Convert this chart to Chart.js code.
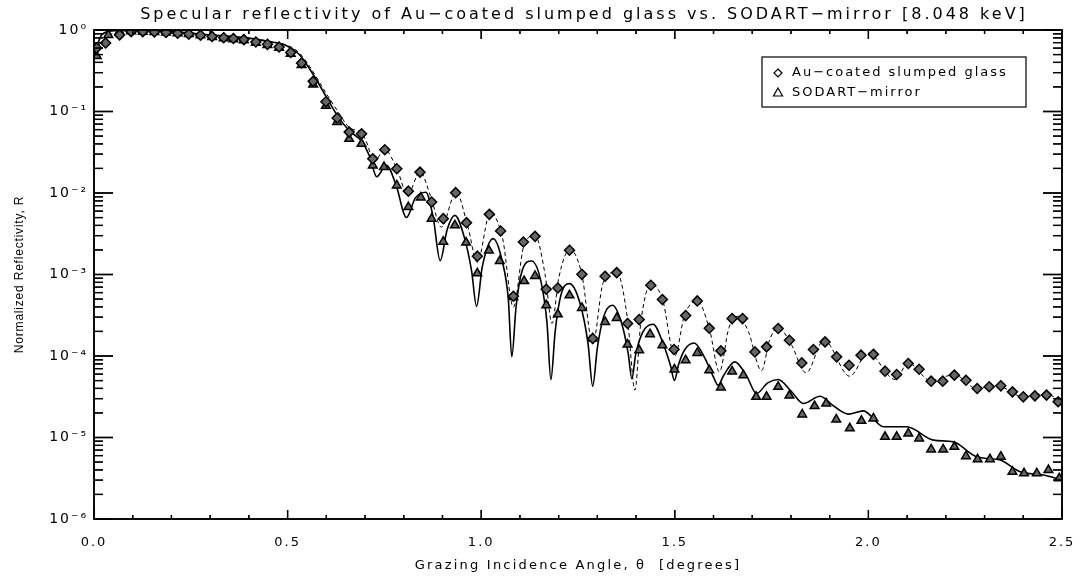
<!DOCTYPE html>
<html>
<head>
<meta charset="utf-8">
<script src="https://cdn.jsdelivr.net/npm/chart.js@4.4.1/dist/chart.umd.min.js"></script>
<style>
  html, body { margin: 0; padding: 0; background: #fff; }
  #wrap { position: relative; width: 1081px; height: 577px; }
  #axes { position: absolute; left: 0; top: 0; pointer-events: none; }
</style>
</head>
<body>
<div id="wrap">
  <canvas id="refl" width="1081" height="577"></canvas>
  <svg id="axes" width="1081" height="577" xmlns="http://www.w3.org/2000/svg"></svg>
</div>
<script>
// grazing angle (deg) and log10 of normalized reflectivity
const auTheta = [
  0.007, 0.030, 0.066, 0.096, 0.126, 0.156, 0.186, 0.216, 0.245, 0.275,
  0.305, 0.335, 0.360, 0.387, 0.418, 0.448, 0.478, 0.508, 0.536, 0.566,
  0.599, 0.628, 0.659, 0.691, 0.720, 0.751, 0.782, 0.812, 0.842, 0.872,
  0.902, 0.934, 0.962, 0.990, 1.021, 1.050, 1.083, 1.109, 1.139, 1.168,
  1.198, 1.228, 1.260, 1.288, 1.320, 1.350, 1.378, 1.408, 1.438, 1.468,
  1.498, 1.528, 1.558, 1.589, 1.619, 1.648, 1.675, 1.707, 1.737, 1.767,
  1.796, 1.828, 1.858, 1.888, 1.918, 1.950, 1.981, 2.013, 2.043, 2.073,
  2.103, 2.131, 2.162, 2.192, 2.222, 2.252, 2.281, 2.312, 2.342, 2.372,
  2.400, 2.430, 2.460, 2.490
];
const auLogR = [
  -0.22, -0.16, -0.06, -0.02, -0.02, -0.025, -0.03, -0.04, -0.05, -0.065,
  -0.08, -0.095, -0.105, -0.118, -0.148, -0.176, -0.208, -0.275, -0.405, -0.63,
  -0.88, -1.08, -1.253, -1.274, -1.58, -1.47, -1.702, -1.977, -1.744, -2.111,
  -2.315, -1.996, -2.364, -2.775, -2.262, -2.467, -3.267, -2.602, -2.532, -3.181,
  -3.165, -2.703, -2.998, -3.786, -3.022, -2.977, -3.601, -3.553, -3.132, -3.307,
  -3.92, -3.504, -3.324, -3.66, -3.937, -3.541, -3.541, -3.95, -3.888, -3.663,
  -3.806, -4.085, -3.92, -3.827, -4.01, -4.113, -3.99, -3.98, -4.186, -4.227,
  -4.092, -4.162, -4.309, -4.309, -4.235, -4.297, -4.398, -4.378, -4.366, -4.44,
  -4.501, -4.489, -4.48, -4.562
];

const sodTheta = [
  0.007, 0.037, 0.066, 0.096, 0.126, 0.156, 0.186, 0.216, 0.245, 0.275,
  0.305, 0.335, 0.360, 0.387, 0.418, 0.448, 0.478, 0.508, 0.536, 0.566,
  0.599, 0.628, 0.659, 0.691, 0.720, 0.749, 0.782, 0.812, 0.844, 0.872,
  0.902, 0.932, 0.961, 0.990, 1.020, 1.048, 1.083, 1.111, 1.139, 1.168,
  1.198, 1.228, 1.260, 1.288, 1.320, 1.350, 1.378, 1.408, 1.436, 1.468,
  1.499, 1.528, 1.558, 1.589, 1.619, 1.648, 1.677, 1.710, 1.737, 1.767,
  1.796, 1.829, 1.861, 1.891, 1.917, 1.952, 1.982, 2.013, 2.043, 2.073,
  2.103, 2.131, 2.162, 2.193, 2.222, 2.252, 2.282, 2.314, 2.342, 2.372,
  2.402, 2.435, 2.465, 2.493
];
const sodLogR = [
  -0.32, -0.06, -0.02, -0.015, -0.02, -0.025, -0.03, -0.04, -0.05, -0.065,
  -0.085, -0.1, -0.112, -0.125, -0.155, -0.185, -0.218, -0.29, -0.43, -0.67,
  -0.93, -1.13, -1.335, -1.396, -1.662, -1.682, -1.907, -2.173, -2.054, -2.315,
  -2.597, -2.397, -2.608, -2.986, -2.706, -2.835, -3.276, -3.08, -3.018, -3.377,
  -3.488, -3.255, -3.411, -3.786, -3.582, -3.533, -3.859, -3.929, -3.733, -3.868,
  -4.165, -4.051, -3.962, -4.174, -4.386, -4.19, -4.235, -4.501, -4.501, -4.378,
  -4.485, -4.717, -4.615, -4.582, -4.778, -4.888, -4.795, -4.766, -4.991, -4.991,
  -4.95, -5.012, -5.147, -5.147, -5.115, -5.229, -5.268, -5.268, -5.236, -5.42,
  -5.44, -5.44, -5.40, -5.50
];

// model curves (dashed: Au-coated glass, solid: SODART)
const auFitTheta = [
  0.000, 0.030, 0.060, 0.100, 0.200, 0.300, 0.400, 0.450, 0.500, 0.530,
  0.560, 0.600, 0.630, 0.660, 0.690, 0.706, 0.722, 0.751, 0.782, 0.810,
  0.842, 0.870, 0.897, 0.935, 0.965, 0.990, 1.023, 1.055, 1.083, 1.110,
  1.139, 1.165, 1.183, 1.200, 1.229, 1.260, 1.288, 1.315, 1.350, 1.378,
  1.397, 1.412, 1.438, 1.468, 1.500, 1.525, 1.558, 1.590, 1.615, 1.640,
  1.664, 1.690, 1.724, 1.745, 1.767, 1.800, 1.839, 1.885, 1.952, 1.999,
  2.069, 2.103, 2.160, 2.222, 2.280, 2.330, 2.400, 2.460, 2.500
];
const auFitLogR = [
  -0.25, -0.10, -0.02, -0.005, -0.02, -0.06, -0.10, -0.135, -0.19, -0.28,
  -0.47, -0.78, -1.00, -1.20, -1.26, -1.40, -1.62, -1.47, -1.70, -2.02,
  -1.74, -2.05, -2.42, -1.99, -2.40, -2.85, -2.246, -2.55, -3.40, -2.65,
  -2.52, -3.00, -3.60, -3.05, -2.695, -3.00, -3.85, -3.10, -2.969, -3.55,
  -4.42, -3.60, -3.12, -3.30, -4.00, -3.50, -3.324, -3.68, -4.195, -3.65,
  -3.512, -3.70, -4.18, -3.80, -3.65, -3.85, -4.207, -3.806, -4.248, -3.962,
  -4.288, -4.085, -4.30, -4.23, -4.40, -4.36, -4.50, -4.47, -4.56
];

const sodFitTheta = [
  0.000, 0.020, 0.050, 0.100, 0.200, 0.300, 0.400, 0.450, 0.500, 0.530,
  0.560, 0.600, 0.630, 0.660, 0.690, 0.712, 0.730, 0.755, 0.780, 0.807,
  0.830, 0.857, 0.876, 0.894, 0.912, 0.932, 0.955, 0.975, 0.988, 1.003,
  1.031, 1.055, 1.070, 1.079, 1.090, 1.106, 1.130, 1.155, 1.170, 1.180,
  1.191, 1.206, 1.228, 1.255, 1.276, 1.288, 1.300, 1.316, 1.339, 1.364,
  1.380, 1.389, 1.399, 1.418, 1.444, 1.470, 1.489, 1.499, 1.510, 1.526,
  1.550, 1.577, 1.600, 1.612, 1.626, 1.655, 1.686, 1.711, 1.740, 1.767,
  1.800, 1.832, 1.875, 1.912, 1.948, 1.987, 2.039, 2.099, 2.168, 2.219,
  2.279, 2.340, 2.392, 2.452, 2.500
];
const sodFitLogR = [
  -0.30, -0.06, -0.01, -0.005, -0.02, -0.06, -0.10, -0.14, -0.20, -0.30,
  -0.50, -0.82, -1.06, -1.24, -1.36, -1.55, -1.80, -1.66, -1.90, -2.30,
  -2.06, -1.99, -2.30, -2.83, -2.45, -2.275, -2.52, -2.95, -3.39, -2.90,
  -2.56, -2.85, -3.30, -4.01, -3.40, -2.95, -2.835, -3.10, -3.60, -4.29,
  -3.70, -3.25, -3.112, -3.35, -3.85, -4.37, -3.90, -3.52, -3.377, -3.62,
  -3.98, -4.28, -3.98, -3.70, -3.61, -3.85, -4.12, -4.30, -4.10, -3.92,
  -3.84, -4.02, -4.26, -4.36, -4.24, -4.072, -4.25, -4.46, -4.33, -4.288,
  -4.43, -4.582, -4.493, -4.62, -4.713, -4.673, -4.869, -4.869, -5.032, -5.053,
  -5.236, -5.277, -5.42, -5.46, -5.52
];

const yTickValues = [1e-6, 1e-5, 1e-4, 1e-3, 1e-2, 1e-1, 1];

const titleText = 'Specular reflectivity of Au\u2212coated slumped glass vs. SODART\u2212mirror [8.048 keV]';
const xTitleText = 'Grazing Incidence Angle, \u03b8  [degrees]';
const yTitleText = 'Normalized Reflectivity, R';

const sup = { '-': '\u207b', '0': '\u2070', '1': '\u00b9', '2': '\u00b2', '3': '\u00b3', '4': '\u2074', '5': '\u2075', '6': '\u2076' };
function decadeLabel(v) {
  const e = Math.round(Math.log10(v));
  return '10' + String(e).split('').map(c => sup[c]).join('');
}

const toPoints = (xs, ys) => xs.map((t, i) => ({ x: t, y: Math.pow(10, ys[i]) }));

// frame + inward ticks as line segments, positioned from the chart's own scales
function frameSegments(chart) {
  const a = chart.chartArea;
  const xs = chart.scales.x, ys = chart.scales.y;
  const segs = [];
  yTickValues.forEach(dec => {
    for (let m = 1; m <= 9; m++) {
      const v = dec * m;
      if (v > 1.0001) break;
      const py = ys.getPixelForValue(v);
      const len = m === 1 ? 19 : 9;
      segs.push([a.left, py, a.left + len, py], [a.right, py, a.right - len, py]);
    }
  });
  for (let i = 0; i <= 25; i++) {
    const px = xs.getPixelForValue(i / 10);
    const len = i % 5 === 0 ? 9 : 4;
    segs.push([px, a.bottom, px, a.bottom - len], [px, a.top, px, a.top + len]);
  }
  return segs;
}

const decor = {
  id: 'decor',
  beforeDraw(chart) {
    chart.ctx.letterSpacing = '2px';
  },
  afterDraw(chart) {
    const ctx = chart.ctx;
    const a = chart.chartArea;
    ctx.save();
    ctx.setLineDash([]);
    ctx.strokeStyle = '#000';
    ctx.fillStyle = '#000';
    ctx.lineWidth = 1.6;
    ctx.strokeRect(a.left, a.top, a.width, a.height);
    ctx.lineWidth = 1.3;
    ctx.beginPath();
    frameSegments(chart).forEach(s => { ctx.moveTo(s[0], s[1]); ctx.lineTo(s[2], s[3]); });
    ctx.stroke();

    ctx.textAlign = 'center';
    ctx.textBaseline = 'middle';
    ctx.letterSpacing = '3px';
    ctx.font = '16px "DejaVu Sans"';
    ctx.fillText(titleText, (a.left + a.right) / 2 + 6, 15);
    ctx.letterSpacing = '2.2px';
    ctx.font = '13px "DejaVu Sans"';
    ctx.fillText(xTitleText, (a.left + a.right) / 2, 566);

    ctx.save();
    ctx.translate(20, (a.top + a.bottom) / 2);
    ctx.rotate(-Math.PI / 2);
    ctx.letterSpacing = '0.8px';
    ctx.font = '12px "Liberation Sans"';
    ctx.fillText(yTitleText, 0, 0);
    ctx.restore();

    // boxed legend
    const lx = a.right - 300, ly = a.top + 27, lw = 264, lh = 50;
    ctx.lineWidth = 1.2;
    ctx.strokeRect(lx, ly, lw, lh);
    ctx.fillStyle = '#fff';
    ctx.beginPath();
    ctx.moveTo(lx + 16, ly + 12); ctx.lineTo(lx + 20, ly + 16);
    ctx.lineTo(lx + 16, ly + 20); ctx.lineTo(lx + 12, ly + 16);
    ctx.closePath(); ctx.fill(); ctx.stroke();
    ctx.beginPath();
    ctx.moveTo(lx + 16, ly + 31); ctx.lineTo(lx + 20.5, ly + 39);
    ctx.lineTo(lx + 11.5, ly + 39);
    ctx.closePath(); ctx.fill(); ctx.stroke();
    ctx.fillStyle = '#000';
    ctx.textAlign = 'left';
    ctx.letterSpacing = '2px';
    ctx.font = '13px "DejaVu Sans"';
    ctx.fillText(chart.data.datasets[0].label, lx + 30, ly + 16);
    ctx.fillText(chart.data.datasets[1].label, lx + 30, ly + 36);
    ctx.restore();
  }
};

const chart = new Chart(document.getElementById('refl'), {
  type: 'scatter',
  data: {
    datasets: [
      {
        label: 'Au\u2212coated slumped glass',
        data: toPoints(auTheta, auLogR),
        pointStyle: 'rectRot',
        pointRadius: 5,
        pointBorderWidth: 1.5,
        borderColor: '#000',
        backgroundColor: '#666'
      },
      {
        label: 'SODART\u2212mirror',
        data: toPoints(sodTheta, sodLogR),
        pointStyle: 'triangle',
        pointRadius: 5,
        pointBorderWidth: 1.5,
        borderColor: '#000',
        backgroundColor: '#666'
      },
      {
        label: 'Au fit',
        data: toPoints(auFitTheta, auFitLogR),
        showLine: true,
        borderColor: '#000',
        borderWidth: 1,
        borderDash: [4, 3],
        pointRadius: 0,
        cubicInterpolationMode: 'monotone'
      },
      {
        label: 'SODART fit',
        data: toPoints(sodFitTheta, sodFitLogR),
        showLine: true,
        borderColor: '#000',
        borderWidth: 1.6,
        pointRadius: 0,
        cubicInterpolationMode: 'monotone'
      }
    ]
  },
  options: {
    responsive: false,
    animation: false,
    devicePixelRatio: 1,
    events: [],
    layout: { padding: { top: 30, right: 19, left: 0, bottom: 0 } },
    plugins: {
      legend: { display: false },
      tooltip: { enabled: false },
      title: { display: false }
    },
    scales: {
      x: {
        type: 'linear',
        min: 0,
        max: 2.5,
        grid: { display: false, drawTicks: true, tickLength: 14 },
        border: { display: false },
        ticks: {
          stepSize: 0.5,
          padding: 2,
          maxRotation: 0,
          color: '#000',
          font: { family: 'DejaVu Sans', size: 13 },
          callback: v => v.toFixed(1)
        },
        afterFit: s => { s.height = 58; }
      },
      y: {
        type: 'logarithmic',
        min: 1e-6,
        max: 1,
        grid: { display: false, drawTicks: false },
        border: { display: false },
        afterBuildTicks: s => { s.ticks = yTickValues.map(v => ({ value: v })); },
        ticks: {
          autoSkip: false,
          padding: 6,
          color: '#000',
          font: { family: 'DejaVu Sans', size: 14 },
          callback: v => decadeLabel(v)
        },
        afterFit: s => { s.width = 94; }
      }
    }
  },
  plugins: [decor]
});

// same frame and ticks again as an SVG overlay on top of the canvas
(function drawOverlay() {
  const svg = document.getElementById('axes');
  const NS = 'http://www.w3.org/2000/svg';
  const a = chart.chartArea;
  const rect = document.createElementNS(NS, 'rect');
  rect.setAttribute('x', a.left);
  rect.setAttribute('y', a.top);
  rect.setAttribute('width', a.right - a.left);
  rect.setAttribute('height', a.bottom - a.top);
  rect.setAttribute('fill', 'none');
  rect.setAttribute('stroke', '#000');
  rect.setAttribute('stroke-width', '1.6');
  svg.appendChild(rect);
  frameSegments(chart).forEach(s => {
    const ln = document.createElementNS(NS, 'line');
    ln.setAttribute('x1', s[0]); ln.setAttribute('y1', s[1]);
    ln.setAttribute('x2', s[2]); ln.setAttribute('y2', s[3]);
    ln.setAttribute('stroke', '#000');
    ln.setAttribute('stroke-width', '1.3');
    svg.appendChild(ln);
  });
})();
</script>
</body>
</html>
